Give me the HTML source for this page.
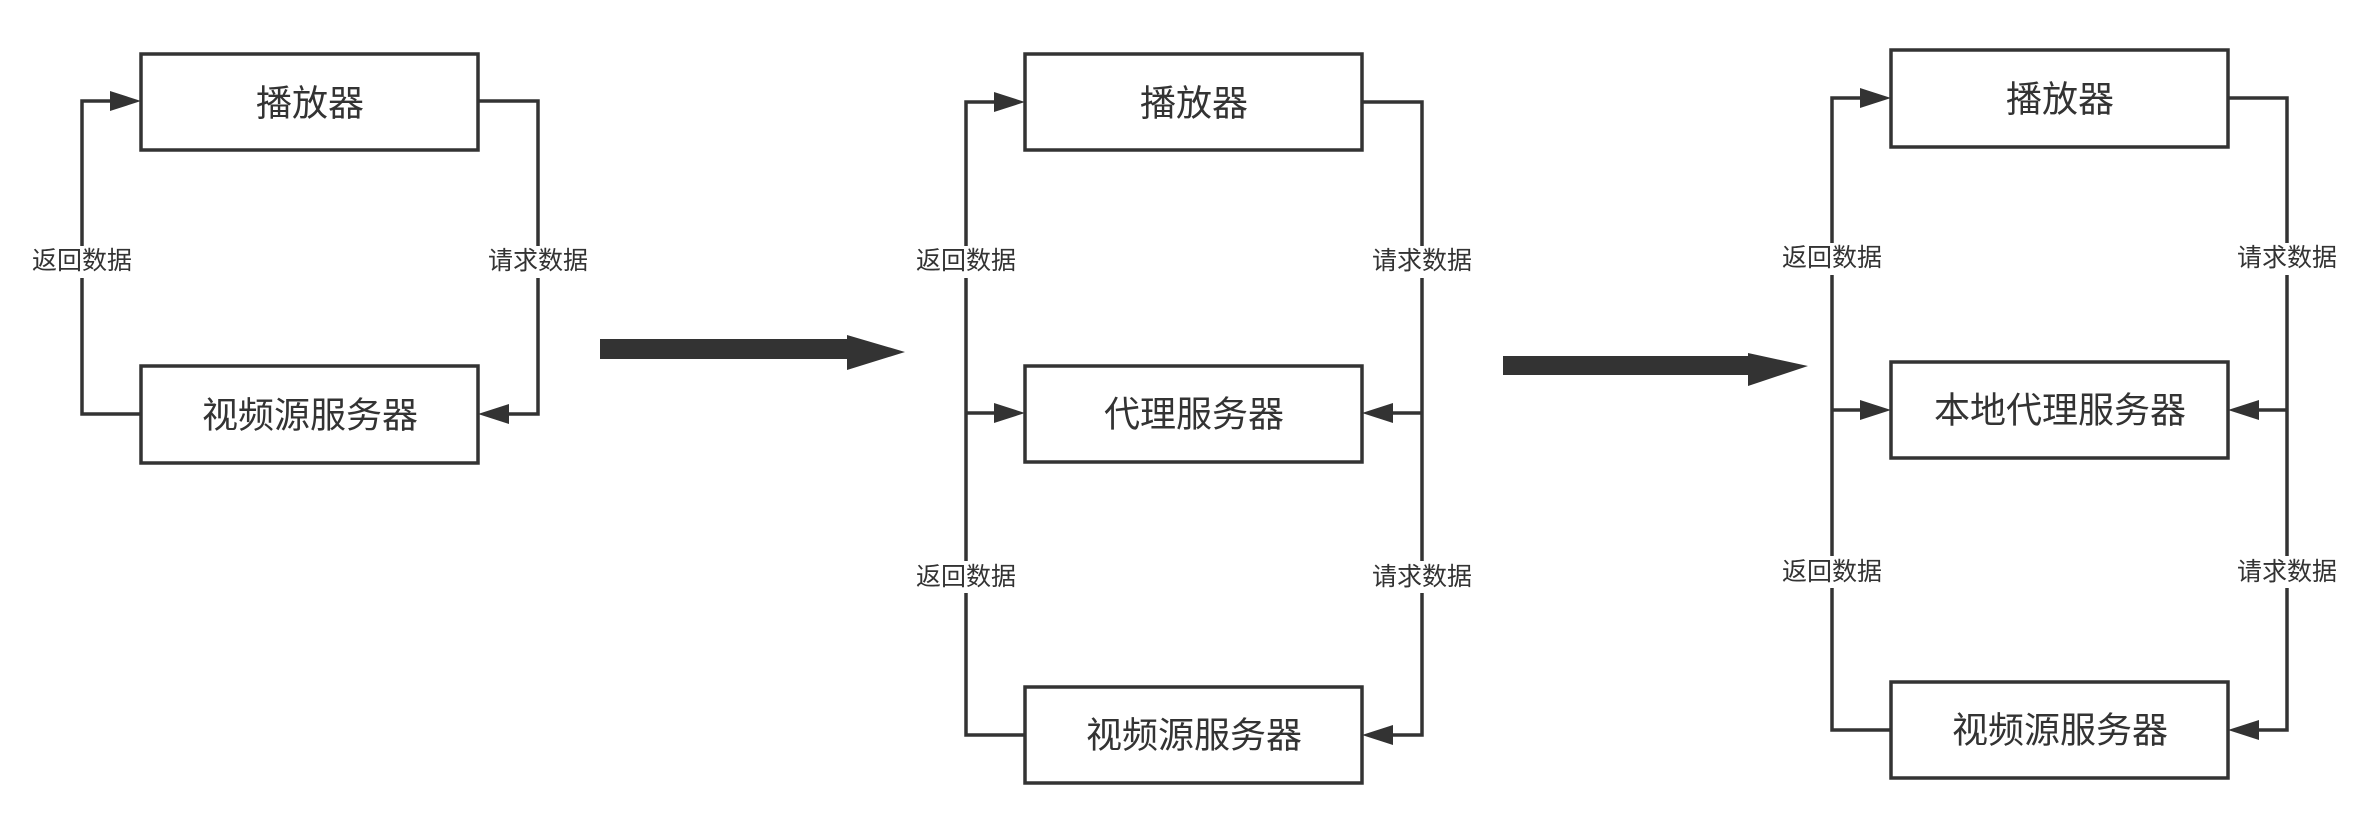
<!DOCTYPE html>
<html><head><meta charset="utf-8"><style>
html,body{margin:0;padding:0;background:#fff;}
svg{display:block;}
text{font-family:"Liberation Sans","Noto Sans CJK SC",sans-serif;fill:#333;}
</style></head><body>
<svg width="2370" height="832" viewBox="0 0 2370 832" xmlns="http://www.w3.org/2000/svg">
<g stroke="#333" stroke-width="3.5" fill="none">
<!-- Diagram 1 -->
<rect x="141" y="54" width="337" height="96" fill="#fff"/>
<rect x="141" y="366" width="337" height="97" fill="#fff"/>
<polyline points="141,414 82,414 82,101 112,101"/>
<polyline points="478,101 538,101 538,414 508,414"/>
<!-- Diagram 2 -->
<rect x="1025" y="54" width="337" height="96" fill="#fff"/>
<rect x="1025" y="366" width="337" height="96" fill="#fff"/>
<rect x="1025" y="687" width="337" height="96" fill="#fff"/>
<polyline points="1025,735 966,735 966,102 996,102"/>
<line x1="966" y1="413" x2="996" y2="413"/>
<polyline points="1362,102 1422,102 1422,735 1392,735"/>
<line x1="1422" y1="413" x2="1392" y2="413"/>
<!-- Diagram 3 -->
<rect x="1891" y="50" width="337" height="97" fill="#fff"/>
<rect x="1891" y="362" width="337" height="96" fill="#fff"/>
<rect x="1891" y="682" width="337" height="96" fill="#fff"/>
<polyline points="1891,730 1832,730 1832,98 1862,98"/>
<line x1="1832" y1="410" x2="1862" y2="410"/>
<polyline points="2228,98 2287,98 2287,730 2257,730"/>
<line x1="2287" y1="410" x2="2257" y2="410"/>
</g>
<g fill="#333">
<polygon points="141,101 110,91 110,111"/>
<polygon points="478,414 509,404 509,424"/>
<polygon points="1025,102 994,92 994,112"/>
<polygon points="1025,413 994,403 994,423"/>
<polygon points="1362,413 1393,403 1393,423"/>
<polygon points="1362,735 1393,725 1393,745"/>
<polygon points="1891,98 1860,88 1860,108"/>
<polygon points="1891,410 1860,400 1860,420"/>
<polygon points="2228,410 2259,400 2259,420"/>
<polygon points="2228,730 2259,720 2259,740"/>
<polygon points="600,339 847,339 847,335 905,352 847,370 847,359 600,359"/>
<polygon points="1503,356 1748,356 1748,353 1808,366 1748,386 1748,375 1503,375"/>
</g>
<g fill="#fff">
<rect x="28" y="246" width="108" height="32"/>
<rect x="484" y="246" width="108" height="32"/>
<rect x="912" y="246" width="108" height="32"/>
<rect x="1368" y="246" width="108" height="32"/>
<rect x="912" y="561" width="108" height="32"/>
<rect x="1368" y="561" width="108" height="32"/>
<rect x="1778" y="243" width="108" height="32"/>
<rect x="2233" y="243" width="108" height="32"/>
<rect x="1778" y="556" width="108" height="32"/>
<rect x="2233" y="556" width="108" height="32"/>
</g>
<g font-size="25" text-anchor="middle" dominant-baseline="central">
<text x="82" y="261">返回数据</text>
<text x="538" y="261">请求数据</text>
<text x="966" y="261">返回数据</text>
<text x="1422" y="261">请求数据</text>
<text x="966" y="577">返回数据</text>
<text x="1422" y="577">请求数据</text>
<text x="1832" y="258">返回数据</text>
<text x="2287" y="258">请求数据</text>
<text x="1832" y="572">返回数据</text>
<text x="2287" y="572">请求数据</text>
</g>
<g font-size="36" text-anchor="middle" dominant-baseline="central">
<text x="310" y="103">播放器</text>
<text x="310" y="415">视频源服务器</text>
<text x="1194" y="103">播放器</text>
<text x="1194" y="414">代理服务器</text>
<text x="1194" y="735">视频源服务器</text>
<text x="2060" y="99">播放器</text>
<text x="2060" y="410">本地代理服务器</text>
<text x="2060" y="730">视频源服务器</text>
</g>
</svg>
</body></html>
